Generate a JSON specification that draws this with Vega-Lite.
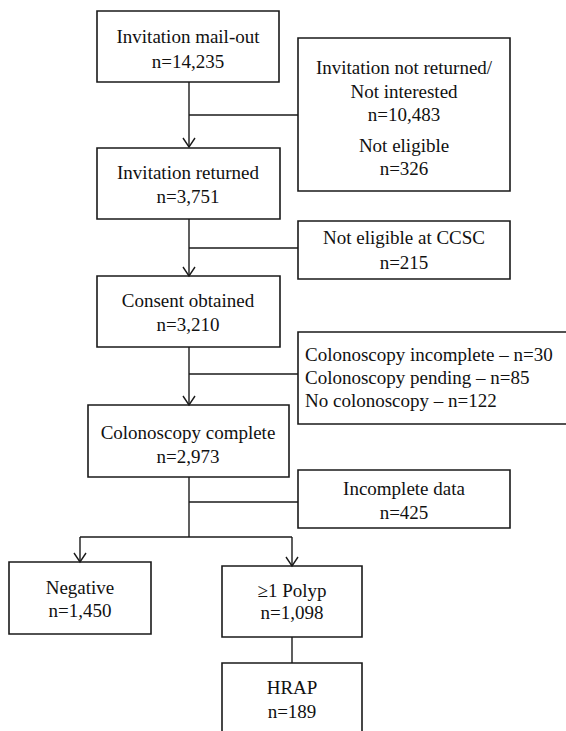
{
  "$schema": "https://vega.github.io/schema/vega-lite/v6.json",
  "width": 566,
  "height": 731,
  "autosize": {"type": "fit", "contains": "padding"},
  "padding": 0,
  "background": "white",
  "config": {"view": {"stroke": null}},
  "datasets": {
    "boxes": [
      {"id": "mailout", "x1": 97, "x2": 279, "y1": 11, "y2": 82},
      {"id": "notreturned", "x1": 298, "x2": 510, "y1": 38, "y2": 191},
      {"id": "returned", "x1": 97, "x2": 280, "y1": 148, "y2": 219},
      {"id": "ccsc", "x1": 298, "x2": 510, "y1": 221, "y2": 279},
      {"id": "consent", "x1": 97, "x2": 280, "y1": 276, "y2": 347},
      {"id": "excluded", "x1": 298, "x2": 570, "y1": 332, "y2": 424},
      {"id": "complete", "x1": 88, "x2": 289, "y1": 405, "y2": 477},
      {"id": "incomplete", "x1": 298, "x2": 510, "y1": 470, "y2": 528},
      {"id": "negative", "x1": 9, "x2": 151, "y1": 562, "y2": 634},
      {"id": "polyp", "x1": 222, "x2": 362, "y1": 566, "y2": 637},
      {"id": "hrap", "x1": 222, "x2": 362, "y1": 663, "y2": 760}
    ],
    "lines": [
      {"x1": 189, "y1": 82, "x2": 189, "y2": 147},
      {"x1": 189, "y1": 115, "x2": 298, "y2": 115},
      {"x1": 189, "y1": 219, "x2": 189, "y2": 276},
      {"x1": 189, "y1": 248, "x2": 298, "y2": 248},
      {"x1": 189, "y1": 347, "x2": 189, "y2": 405},
      {"x1": 189, "y1": 374, "x2": 298, "y2": 374},
      {"x1": 189, "y1": 477, "x2": 189, "y2": 537},
      {"x1": 189, "y1": 502, "x2": 298, "y2": 502},
      {"x1": 80, "y1": 537, "x2": 292, "y2": 537},
      {"x1": 80, "y1": 537, "x2": 80, "y2": 562},
      {"x1": 292, "y1": 537, "x2": 292, "y2": 566},
      {"x1": 292, "y1": 637, "x2": 292, "y2": 663}
    ],
    "arrows": [
      {"x": 189, "y": 147},
      {"x": 189, "y": 276},
      {"x": 189, "y": 405},
      {"x": 80, "y": 562},
      {"x": 292, "y": 566}
    ],
    "labels": [
      {"x": 188, "y": 37, "text": "Invitation mail-out"},
      {"x": 188, "y": 62, "text": "n=14,235"},
      {"x": 404, "y": 68, "text": "Invitation not returned/"},
      {"x": 404, "y": 92, "text": "Not interested"},
      {"x": 404, "y": 115, "text": "n=10,483"},
      {"x": 404, "y": 146, "text": "Not eligible"},
      {"x": 404, "y": 169, "text": "n=326"},
      {"x": 188, "y": 173, "text": "Invitation returned"},
      {"x": 188, "y": 197, "text": "n=3,751"},
      {"x": 404, "y": 238, "text": "Not eligible at CCSC"},
      {"x": 404, "y": 263, "text": "n=215"},
      {"x": 188, "y": 301, "text": "Consent obtained"},
      {"x": 188, "y": 325, "text": "n=3,210"},
      {"x": 188, "y": 433, "text": "Colonoscopy complete"},
      {"x": 188, "y": 457, "text": "n=2,973"},
      {"x": 404, "y": 489, "text": "Incomplete data"},
      {"x": 404, "y": 513, "text": "n=425"},
      {"x": 80, "y": 588, "text": "Negative"},
      {"x": 80, "y": 611, "text": "n=1,450"},
      {"x": 292, "y": 591, "text": "≥1 Polyp"},
      {"x": 292, "y": 613, "text": "n=1,098"},
      {"x": 292, "y": 688, "text": "HRAP"},
      {"x": 292, "y": 712, "text": "n=189"}
    ],
    "leftLabels": [
      {"x": 305, "y": 355, "text": "Colonoscopy incomplete – n=30"},
      {"x": 305, "y": 378, "text": "Colonoscopy pending – n=85"},
      {"x": 305, "y": 401, "text": "No colonoscopy – n=122"}
    ]
  },
  "layer": [
    {
      "data": {"name": "boxes"},
      "mark": {"type": "rect", "fill": "white", "stroke": "#1a1a1a", "strokeWidth": 1.6, "clip": true},
      "encoding": {
        "x": {"field": "x1", "type": "quantitative", "scale": {"domain": [0, 566], "nice": false, "zero": false}, "axis": null},
        "x2": {"field": "x2"},
        "y": {"field": "y1", "type": "quantitative", "scale": {"domain": [0, 731], "nice": false, "zero": false, "reverse": true}, "axis": null},
        "y2": {"field": "y2"}
      }
    },
    {
      "data": {"name": "lines"},
      "mark": {"type": "rule", "stroke": "#1a1a1a", "strokeWidth": 1.4},
      "encoding": {
        "x": {"field": "x1", "type": "quantitative"},
        "x2": {"field": "x2"},
        "y": {"field": "y1", "type": "quantitative"},
        "y2": {"field": "y2"}
      }
    },
    {
      "data": {"name": "arrows"},
      "mark": {"type": "point", "shape": "M-1,-1.5L0,0L1,-1.5", "size": 144, "filled": false, "stroke": "#1a1a1a", "strokeWidth": 1.4, "opacity": 1},
      "encoding": {
        "x": {"field": "x", "type": "quantitative"},
        "y": {"field": "y", "type": "quantitative"}
      }
    },
    {
      "data": {"name": "labels"},
      "mark": {"type": "text", "font": "Liberation Serif", "fontSize": 19, "baseline": "middle", "align": "center", "color": "#111"},
      "encoding": {
        "x": {"field": "x", "type": "quantitative"},
        "y": {"field": "y", "type": "quantitative"},
        "text": {"field": "text", "type": "nominal"}
      }
    },
    {
      "data": {"name": "leftLabels"},
      "mark": {"type": "text", "font": "Liberation Serif", "fontSize": 19, "baseline": "middle", "align": "left", "color": "#111"},
      "encoding": {
        "x": {"field": "x", "type": "quantitative"},
        "y": {"field": "y", "type": "quantitative"},
        "text": {"field": "text", "type": "nominal"}
      }
    }
  ]
}
